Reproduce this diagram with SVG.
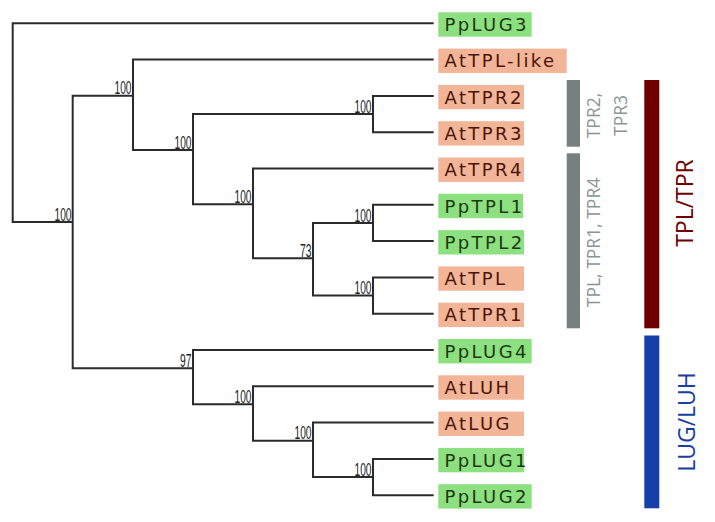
<svg xmlns="http://www.w3.org/2000/svg" width="715" height="522" viewBox="0 0 715 522">
<style>
.br{fill:none;stroke:#2b2b2b;stroke-width:2;stroke-linecap:square}
.bs{font-family:"Liberation Sans",Arial,sans-serif;font-size:19px;fill:#222;text-anchor:end}
.pp rect{fill:#8de080}
.at rect{fill:#f2b598}
.lab{font-family:"DejaVu Sans",Verdana,sans-serif;font-size:18px;letter-spacing:2.4px}
.pp text{fill:#1c3812}
.at text{fill:#4a1408}
.gt{font-family:"Open Sans","Noto Sans",sans-serif;font-size:17.5px;fill:#8a9696;text-anchor:middle}
.big{font-family:"Open Sans","Noto Sans",sans-serif;font-size:23px;text-anchor:middle}
</style>
<rect width="715" height="522" fill="#fff"/>
<g id="connectors">
<path class="br" d="M12.7,23.3V222M12.7,23.3H432.7M12.7,222H72.7
M72.7,95.7V368.3M72.7,95.7H133M72.7,368.3H193
M133,59.6V150M133,59.6H432.7M133,150H193
M193,114V204.3M193,114H373M193,204.3H253
M373,95.9V132.2M373,95.9H432.7M373,132.2H432.7
M253,168.5V258.3M253,168.5H432.7M253,258.3H313
M313,223V295.5M313,223H373M313,295.5H373
M373,204.8V241.1M373,204.8H432.7M373,241.1H432.7
M373,277.4V313.7M373,277.4H432.7M373,313.7H432.7
M193,350V404.3M193,350H432.7M193,404.3H253
M253,386.3V440.7M253,386.3H432.7M253,440.7H313
M313,422.6V477M313,422.6H432.7M313,477H373
M373,458.9V495.2M373,458.9H432.7M373,495.2H432.7"/>
<text class="bs" x="71.5" y="220.5" textLength="17" lengthAdjust="spacingAndGlyphs">100</text>
<text class="bs" x="131.5" y="94" textLength="17" lengthAdjust="spacingAndGlyphs">100</text>
<text class="bs" x="191.5" y="148.5" textLength="17" lengthAdjust="spacingAndGlyphs">100</text>
<text class="bs" x="371.5" y="112.5" textLength="17" lengthAdjust="spacingAndGlyphs">100</text>
<text class="bs" x="251.5" y="202.5" textLength="17" lengthAdjust="spacingAndGlyphs">100</text>
<text class="bs" x="311.5" y="256.5" textLength="11.5" lengthAdjust="spacingAndGlyphs">73</text>
<text class="bs" x="371.5" y="221.5" textLength="17" lengthAdjust="spacingAndGlyphs">100</text>
<text class="bs" x="371.5" y="294" textLength="17" lengthAdjust="spacingAndGlyphs">100</text>
<text class="bs" x="191.5" y="366.5" textLength="11.5" lengthAdjust="spacingAndGlyphs">97</text>
<text class="bs" x="251.5" y="402.5" textLength="17" lengthAdjust="spacingAndGlyphs">100</text>
<text class="bs" x="311.5" y="439" textLength="17" lengthAdjust="spacingAndGlyphs">100</text>
<text class="bs" x="371.5" y="475.5" textLength="17" lengthAdjust="spacingAndGlyphs">100</text>
</g>
<g id="PpLUG3" class="pp"><rect x="438.3" y="12.3" width="93.4" height="24.4"/><text class="lab" x="444.5" y="31">PpLUG3</text></g>
<g id="AtTPL-like" class="at"><rect x="438.3" y="48.6" width="128.4" height="24.4"/><text class="lab" x="444.5" y="67.3">AtTPL-like</text></g>
<g id="AtTPR2" class="at"><rect x="438.3" y="84.9" width="85.7" height="24.4"/><text class="lab" x="444.5" y="103.6">AtTPR2</text></g>
<g id="AtTPR3" class="at"><rect x="438.3" y="121.2" width="85.7" height="24.4"/><text class="lab" x="444.5" y="139.9">AtTPR3</text></g>
<g id="AtTPR4" class="at"><rect x="438.3" y="157.5" width="85.7" height="24.4"/><text class="lab" x="444.5" y="176.2">AtTPR4</text></g>
<g id="PpTPL1" class="pp"><rect x="438.3" y="193.8" width="84.7" height="24.4"/><text class="lab" x="444.5" y="212.5">PpTPL1</text></g>
<g id="PpTPL2" class="pp"><rect x="438.3" y="230.1" width="85.7" height="24.4"/><text class="lab" x="444.5" y="248.8">PpTPL2</text></g>
<g id="AtTPL" class="at"><rect x="438.3" y="266.4" width="85.7" height="24.4"/><text class="lab" x="444.5" y="285.1">AtTPL</text></g>
<g id="AtTPR1" class="at"><rect x="438.3" y="302.7" width="85.7" height="24.4"/><text class="lab" x="444.5" y="321.4">AtTPR1</text></g>
<g id="PpLUG4" class="pp"><rect x="438.3" y="339" width="93.4" height="24.4"/><text class="lab" x="444.5" y="357.7">PpLUG4</text></g>
<g id="AtLUH" class="at"><rect x="438.3" y="375.3" width="85.7" height="24.4"/><text class="lab" x="444.5" y="394">AtLUH</text></g>
<g id="AtLUG" class="at"><rect x="438.3" y="411.6" width="85.7" height="24.4"/><text class="lab" x="444.5" y="430.3">AtLUG</text></g>
<g id="PpLUG1" class="pp"><rect x="438.3" y="447.9" width="85.7" height="24.4"/><text class="lab" x="444.5" y="466.6">PpLUG1</text></g>
<g id="PpLUG2" class="pp"><rect x="438.3" y="484.2" width="93.4" height="24.4"/><text class="lab" x="444.5" y="502.9">PpLUG2</text></g>
<g id="group-TPR2-TPR3">
<rect x="566.7" y="80" width="13.3" height="66.7" fill="#75807f"/>
<text class="gt" x="600" y="115.5" transform="rotate(-90 600 115.5)">TPR2,</text>
<text class="gt" x="627" y="115.5" transform="rotate(-90 627 115.5)">TPR3</text>
</g>
<g id="group-TPL-TPR1-TPR4">
<rect x="566.7" y="153.3" width="13.3" height="175" fill="#75807f"/>
<text class="gt" x="600" y="242.5" transform="rotate(-90 600 242.5)">TPL, TPR1, TPR4</text>
</g>
<g id="group-TPL-TPR">
<rect x="644.3" y="80" width="15" height="248.3" fill="#6e0000"/>
<text class="big" x="693.3" y="203" fill="#6e0000" transform="rotate(-90 693.3 203)">TPL/TPR</text>
</g>
<g id="group-LUG-LUH">
<rect x="644.3" y="335.5" width="15" height="172.8" fill="#1440a8"/>
<text class="big" x="695" y="422" fill="#1a3ea0" transform="rotate(-90 695 422)">LUG/LUH</text>
</g>
</svg>
